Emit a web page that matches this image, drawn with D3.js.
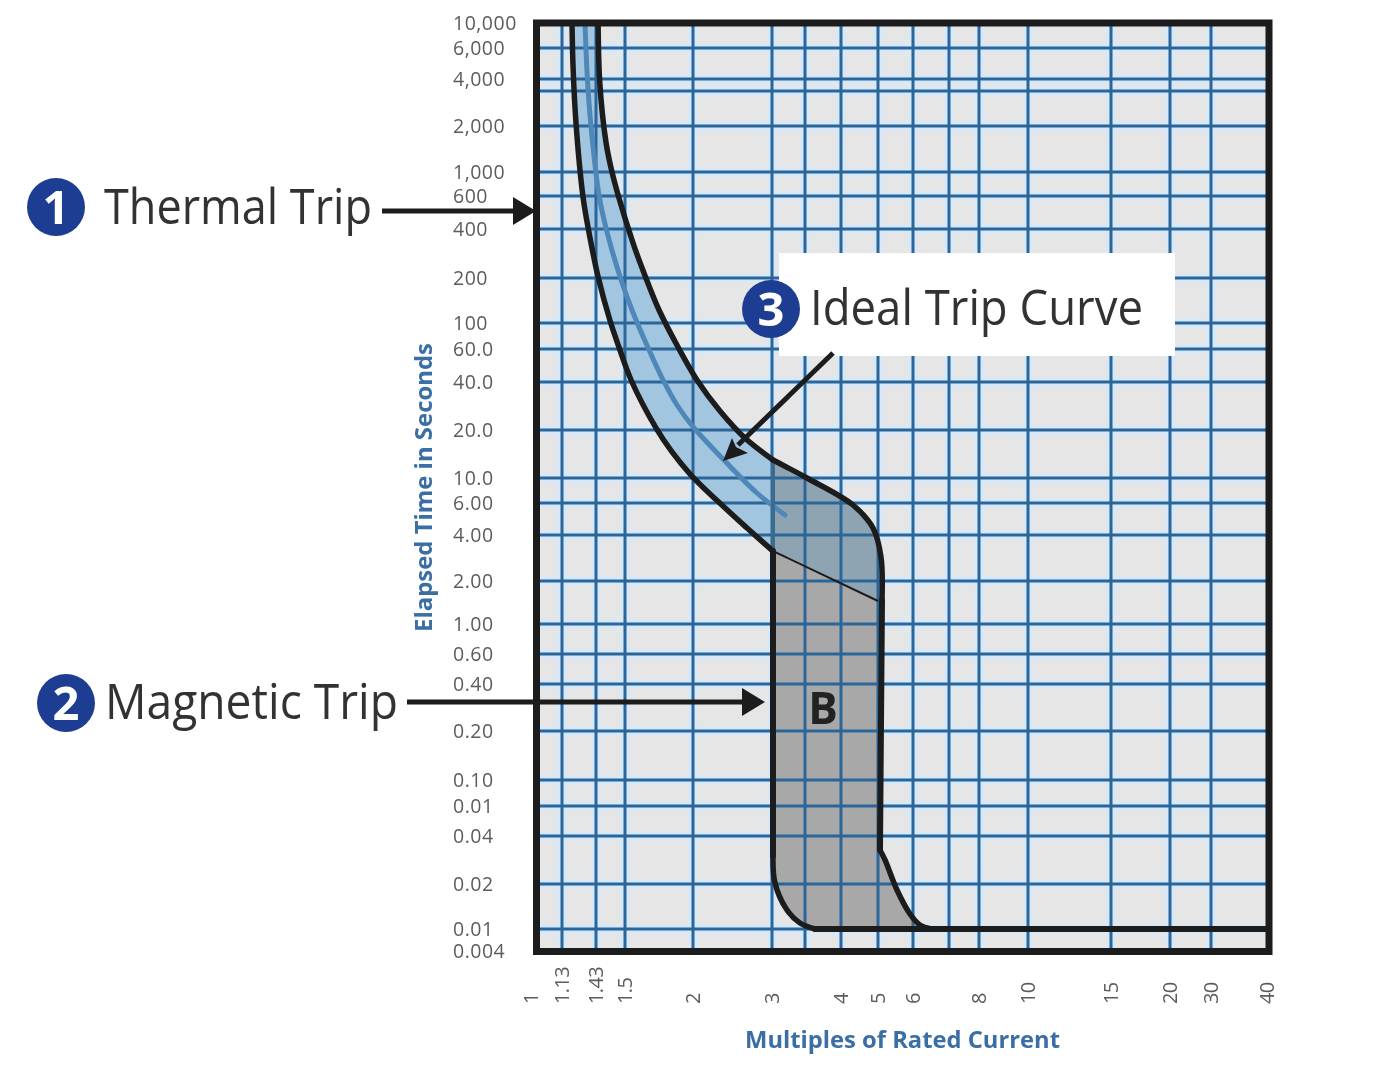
<!DOCTYPE html>
<html>
<head>
<meta charset="utf-8">
<script src="https://cdn.jsdelivr.net/npm/d3@7"></script>
<style>
html,body{margin:0;padding:0;background:#fff;}
svg{display:block;}
text{font-family:"Open Sans",sans-serif;}
</style>
</head>
<body>
<div id="chart"></div>
<script>
// ---- tick values and labels ----
const xTicks = [1,1.13,1.43,1.5,2,3,3.5,4,5,6,7,8,10,15,20,30,40];
const xLabels = ["1","1.13","1.43","1.5","2","3","","4","5","6","","8","10","15","20","30","40"];
const yTicks = [10000,6000,4000,3000,2000,1000,600,400,200,100,60,40,20,10,6,4,2,1,0.6,0.4,0.2,0.1,0.06,0.04,0.02,0.01,0.004];
const yLabels = ["10,000","6,000","4,000","","2,000","1,000","600","400","200","100","60.0","40.0","20.0","10.0","6.00","4.00","2.00","1.00","0.60","0.40","0.20","0.10","0.01","0.04","0.02","0.01","0.004"];

// ---- curves: [multiple of rated current, seconds] ----
const thermalLower = [[1.211,10000],[1.220,4679],[1.245,2070],[1.307,593],[1.358,394],[1.435,203],[1.463,104.7],[1.485,62.4],[1.539,41.0],[1.710,20.6],[1.830,14.56],[1.983,10.44],[2.345,5.70],[2.639,4.37],[3.014,3.14]];
const thermalUpper = [[1.435,10000],[1.439,3634],[1.454,1548],[1.467,1031],[1.483,613],[1.552,328],[1.636,203],[1.732,122.2],[1.877,62.4],[2.041,41.0],[2.297,26.3],[2.611,17.8],[3.014,12.97]];
const shoulder = [[3.014,12.97],[3.526,10],[4.300,5.85],[4.852,4.37],[5.079,2.87],[5.105,1.472]];
const magneticRightStraight = [[5.105,1.472],[5.052,0.0327]];
const magneticRightLower = [[5.052,0.0327],[5.186,0.0283],[5.52,0.01823],[5.907,0.0126],[6.18,0.01064],[6.508,0.01]];
const magneticLeftStraight = [[3.014,3.14],[3.014,0.03]];
const magneticLeftLower = [[3.014,0.03],[3.042,0.0203],[3.218,0.0134],[3.419,0.01097],[3.632,0.01]];
const instantaneous = [[3.632,0.01],[6.508,0.01],[40,0.01]];
const thermalEnd = [[3.014,3.14],[5.0,1.449]];
const idealCurve = [[1.325,10000],[1.348,3905],[1.382,1970],[1.437,613],[1.455,394],[1.488,203],[1.545,122.2],[1.639,67.5],[1.762,41.0],[1.869,28.7],[2.010,20.6],[2.321,13.35],[2.777,7.36],[3.188,5.15]];

// ---- layout ----
const W = 1381, H = 1065;
const frame = {l:536.5, r:1269, t:23, b:951.5};
const xGridPx = [536.5,562,596,625,693,772,805,841,878,913,949,979,1028,1111,1170,1211,1269];
const yGridPx = [23,48,79,91,126,172,196,229,278,323,349,382,430,478,503,535,581,624,654,684,731,780,806,836,884,929,951.5];

const x = d3.scaleLog().domain(xTicks).range(xGridPx);
const y = d3.scaleLog().domain(yTicks).range(yGridPx);

const svg = d3.select("#chart").append("svg").attr("width",W).attr("height",H);
const defs = svg.append("defs");
defs.append("filter").attr("id","soft")
  .attr("filterUnits","userSpaceOnUse").attr("x",0).attr("y",0).attr("width",W).attr("height",H)
  .append("feGaussianBlur").attr("stdDeviation",0.6);
const root = svg.append("g").attr("filter","url(#soft)");

const curved = d3.line().x(d=>x(d[0])).y(d=>y(d[1])).curve(d3.curveCatmullRom.alpha(0.5));
const straight = d3.line().x(d=>x(d[0])).y(d=>y(d[1]));
const sm = pts => curved(pts);
const rev = a => a.slice().reverse();

// panel
root.append("rect").attr("x",frame.l).attr("y",frame.t).attr("width",frame.r-frame.l).attr("height",frame.b-frame.t).attr("fill","#e6e6e6");

const innerX = xTicks.slice(1,-1), innerY = yTicks.slice(1,-1);
// pale halo around the grid lines
const halo = root.append("g").attr("stroke","#d6e9fb").attr("stroke-width",9);
halo.selectAll("line.v").data(innerX).join("line").attr("class","v").attr("x1",d=>x(d)).attr("x2",d=>x(d)).attr("y1",frame.t).attr("y2",frame.b);
halo.selectAll("line.h").data(innerY).join("line").attr("class","h").attr("y1",d=>y(d)).attr("y2",d=>y(d)).attr("x1",frame.l).attr("x2",frame.r);

// fills
const pathOf = (...parts) => parts.map((p,i)=> i? p.replace(/^M/,"L") : p).join("")+"Z";
root.append("path").attr("fill","#a3c6e0")
  .attr("d",pathOf(sm(thermalUpper), sm(rev(thermalLower))));
root.append("path").attr("fill","#8ea4b3")
  .attr("d",pathOf(sm(shoulder), straight(rev(thermalEnd))));
root.append("path").attr("fill","#a8a8a8")
  .attr("d",pathOf(straight(thermalEnd), straight(magneticRightStraight), sm(magneticRightLower),
                   straight(rev(instantaneous.slice(0,2))), sm(rev(magneticLeftLower)), straight(rev(magneticLeftStraight))));

// grid
const grid = root.append("g").attr("stroke","#2a6699").attr("stroke-width",3);
grid.selectAll("line.v").data(innerX).join("line").attr("class","v").attr("x1",d=>x(d)).attr("x2",d=>x(d)).attr("y1",frame.t).attr("y2",frame.b);
grid.selectAll("line.h").data(innerY).join("line").attr("class","h").attr("y1",d=>y(d)).attr("y2",d=>y(d)).attr("x1",frame.l).attr("x2",frame.r);

// white callout box
root.append("rect").attr("x",779).attr("y",253).attr("width",396).attr("height",103).attr("fill","#fff");

// curves
const ink = "#1d1d1f";
root.append("path").attr("d",sm(idealCurve)).attr("fill","none").attr("stroke","#4f88b8").attr("stroke-width",5).attr("stroke-linecap","round");
root.append("line").attr("x1",x(3.014)).attr("x2",x(3.014)).attr("y1",y(12.97)).attr("y2",y(3.14)).attr("stroke","#3a6c8e").attr("stroke-width",4);
root.append("path").attr("d",straight(thermalEnd)).attr("fill","none").attr("stroke",ink).attr("stroke-width",2);
[thermalLower,thermalUpper,shoulder,magneticRightLower,magneticLeftLower].forEach(c=>{
  root.append("path").attr("d",sm(c)).attr("fill","none").attr("stroke",ink).attr("stroke-width",5.5).attr("stroke-linecap","round");
});
[magneticRightStraight,magneticLeftStraight,instantaneous].forEach(c=>{
  root.append("path").attr("d",straight(c)).attr("fill","none").attr("stroke",ink).attr("stroke-width",6).attr("stroke-linecap","round");
});

// frame
root.append("rect").attr("x",frame.l).attr("y",frame.t).attr("width",frame.r-frame.l).attr("height",frame.b-frame.t)
  .attr("fill","none").attr("stroke",ink).attr("stroke-width",7);

// axes
const yAxis = root.append("g").attr("transform",`translate(${frame.l},0)`)
  .call(d3.axisLeft(y).tickValues(yTicks).tickSize(0).tickFormat((d,i)=>yLabels[i]));
yAxis.select(".domain").remove();
yAxis.selectAll("text").attr("x",453-frame.l).attr("text-anchor","start")
  .attr("font-size",19.5).attr("letter-spacing",0.5).attr("fill","#5c5c5c").style("font-family",'"Open Sans",sans-serif');

const xAxis = root.append("g").attr("transform",`translate(-1,${frame.b})`)
  .call(d3.axisBottom(x).tickValues(xTicks).tickSize(0).tickFormat((d,i)=>xLabels[i]));
xAxis.select(".domain").remove();
xAxis.selectAll("text").attr("transform","rotate(-90)").attr("text-anchor","start")
  .attr("x",-(1004-frame.b)).attr("y",0).attr("dy","0.35em")
  .attr("font-size",20).attr("letter-spacing",-0.6).attr("fill","#5c5c5c").style("font-family",'"Open Sans",sans-serif');
xAxis.selectAll("g.tick").filter((d,i)=>i===0).select("text").attr("dy","0.1em");
xAxis.selectAll("g.tick").filter((d,i)=>i===xTicks.length-1).select("text").attr("dy","0.25em");

// axis titles
root.append("text").text("Multiples of Rated Current").attr("x",902.5).attr("y",1048).attr("text-anchor","middle")
  .attr("font-size",23).attr("font-weight",700).attr("fill","#3a6ea5")
  .attr("textLength",315).attr("lengthAdjust","spacingAndGlyphs");
root.append("text").text("Elapsed Time in Seconds").attr("transform","translate(432,487.5) rotate(-90)").attr("text-anchor","middle")
  .attr("font-size",23).attr("font-weight",700).attr("fill","#3a6ea5")
  .attr("textLength",289).attr("lengthAdjust","spacingAndGlyphs");

// callouts
const callouts = [
  {n:"1",cx:56,cy:207,label:"Thermal Trip",tx:104,ty:224,tl:268},
  {n:"2",cx:66,cy:703,label:"Magnetic Trip",tx:105,ty:719,tl:293},
  {n:"3",cx:771,cy:309,label:"Ideal Trip Curve",tx:810,ty:325,tl:333}
];
callouts.forEach(c=>{
  root.append("circle").attr("cx",c.cx).attr("cy",c.cy).attr("r",29).attr("fill","#1f3d92");
  root.append("text").text(c.n).attr("x",c.cx).attr("y",c.cy+17).attr("text-anchor","middle")
    .attr("font-size",47).attr("font-weight",700).attr("fill","#fff");
  root.append("text").text(c.label).attr("x",c.tx).attr("y",c.ty).attr("font-size",49).attr("fill","#333")
    .attr("textLength",c.tl).attr("lengthAdjust","spacingAndGlyphs");
});
const arrows = [
  {x1:382,y1:211,x2:516,y2:211,head:[[536,211],[513,197],[513,225]]},
  {x1:407,y1:702,x2:745,y2:702,head:[[765,702],[742,688],[742,716]]},
  {x1:833,y1:353,x2:738,y2:445,head:[[723,461],[732,438],[736,447],[748,453]]}
];
arrows.forEach(a=>{
  root.append("line").attr("x1",a.x1).attr("y1",a.y1).attr("x2",a.x2).attr("y2",a.y2).attr("stroke",ink).attr("stroke-width",5);
  root.append("polygon").attr("points",a.head.map(p=>p.join(",")).join(" ")).attr("fill",ink);
});
root.append("text").text("B").attr("x",823).attr("y",724).attr("text-anchor","middle")
  .attr("font-size",44).attr("font-weight",700).attr("fill","#222");
</script>
</body>
</html>
